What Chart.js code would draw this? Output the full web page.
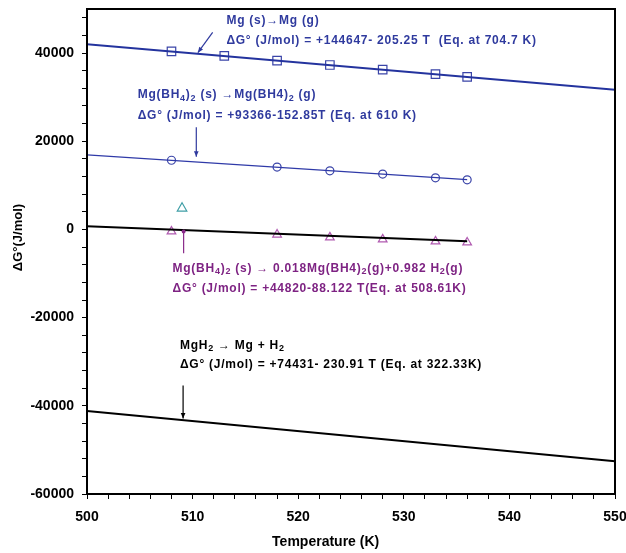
<!DOCTYPE html>
<html>
<head>
<meta charset="utf-8">
<script src="https://cdn.jsdelivr.net/npm/chart.js@4"></script>
<style>
  html, body { margin: 0; padding: 0; background: #fff; }
  #wrap { width: 626px; height: 553px; position: relative; }
</style>
</head>
<body>
<div id="wrap"><canvas id="chart"></canvas></div>
<script>
// axis ticks
const xTicks = [500, 510, 520, 530, 540, 550];
const yTicks = [-60000, -40000, -20000, 0, 20000, 40000];

// Mg (s) -> Mg (g)
const mgLineT = [500, 550];
const mgLineG = [42000, 31700];
const mgPtsT = [508, 513, 518, 523, 528, 533, 536];
const mgPtsG = [40400, 39350, 38300, 37300, 36250, 35250, 34600];

// Mg(BH4)2 (s) -> Mg(BH4)2 (g)
const bhgLineT = [500, 536];
const bhgLineG = [16900, 11300];
const bhgPtsT = [508, 518, 523, 528, 533, 536];
const bhgPtsG = [15700, 14150, 13300, 12550, 11700, 11250];

// Mg(BH4)2 (s) -> 0.018 Mg(BH4)2 (g) + 0.982 H2 (g)
const decLineT = [500, 536];
const decLineG = [750, -2700];
const decPtsT = [508, 518, 523, 528, 533, 536];
const decPtsG = [-450, -1150, -1800, -2250, -2700, -2950];
const oddPtsT = [509];
const oddPtsG = [4800];

// MgH2 -> Mg + H2
const mghLineT = [500, 550];
const mghLineG = [-41200, -52600];

// pointer lines: [x1, y1, x2, y2, colour, head]
const pointers = [
  [511.9, 44700, 510.5, 40100, "#2f3a9e", "arrow"],
  [510.35, 23200, 510.35, 16500, "#2f3a9e", "arrow"],
  [509.15, -450, 509.15, -5400, "#8a2a8a", "dot"],
  [509.1, -35400, 509.1, -42900, "#000000", "arrow"]
];

// equation labels: [x, y, text, colour]  (_{..} = subscript)
const labels = [
  [513.2, 47270, "Mg (s)\u2192Mg (g)", "#2f3a9e"],
  [513.2, 42730, "\u0394G\u00b0 (J/mol) = +144647- 205.25 T  (Eq. at 704.7 K)", "#2f3a9e"],
  [504.8, 30460, "Mg(BH_{4})_{2} (s) \u2192Mg(BH4)_{2} (g)", "#2f3a9e"],
  [504.8, 25910, "\u0394G\u00b0 (J/mol) = +93366-152.85T (Eq. at 610 K)", "#2f3a9e"],
  [508.1, -8860, "Mg(BH_{4})_{2} (s) \u2192 0.018Mg(BH4)_{2}(g)+0.982 H_{2}(g)", "#7e2383"],
  [508.1, -13410, "\u0394G\u00b0 (J/mol) = +44820-88.122 T(Eq. at 508.61K)", "#7e2383"],
  [508.8, -26360, "MgH_{2} \u2192 Mg + H_{2}", "#000000"],
  [508.8, -30680, "\u0394G\u00b0 (J/mol) = +74431- 230.91 T (Eq. at 322.33K)", "#000000"]
];

const toXY = (xs, ys) => xs.map((x, i) => ({ x: x, y: ys[i] }));

// minor tick positions
const xMinor = [];
for (let v = 500; v <= 550; v += 2) xMinor.push(v);
const yMinor = [];
for (let v = -60000; v <= 48000; v += 4000) yMinor.push(v);

const FONT = "'Liberation Sans', Arial, sans-serif";

function drawRich(ctx, text, x, y, size) {
  const parts = text.split(/_\{([^}]*)\}/);
  let cx = x;
  parts.forEach((p, i) => {
    if (!p) return;
    const sub = i % 2 === 1;
    ctx.font = "bold " + (sub ? size - 3 : size) + "px " + FONT;
    ctx.fillText(p, cx, sub ? y + 3 : y);
    cx += ctx.measureText(p).width;
  });
}

const overlay = {
  id: "overlay",
  afterDatasetsDraw(chart) {
    const { ctx, chartArea: a, scales: { x, y } } = chart;
    ctx.save();

    // frame
    ctx.strokeStyle = "#000";
    ctx.lineWidth = 2;
    ctx.strokeRect(a.left, a.top, a.right - a.left, a.bottom - a.top);

    // pointers
    pointers.forEach(p => {
      const x1 = x.getPixelForValue(p[0]), y1 = y.getPixelForValue(p[1]);
      const x2 = x.getPixelForValue(p[2]), y2 = y.getPixelForValue(p[3]);
      ctx.strokeStyle = p[4];
      ctx.fillStyle = p[4];
      ctx.lineWidth = 1.2;
      ctx.beginPath();
      ctx.moveTo(x1, y1);
      ctx.lineTo(x2, y2);
      ctx.stroke();
      if (p[5] === "arrow") {
        const ang = Math.atan2(y2 - y1, x2 - x1);
        const len = 6, w = 0.4;
        ctx.beginPath();
        ctx.moveTo(x2, y2);
        ctx.lineTo(x2 - len * Math.cos(ang - w), y2 - len * Math.sin(ang - w));
        ctx.lineTo(x2 - len * Math.cos(ang + w), y2 - len * Math.sin(ang + w));
        ctx.closePath();
        ctx.fill();
      } else {
        ctx.beginPath();
        ctx.arc(x1, y1, 2, 0, Math.PI * 2);
        ctx.fill();
      }
    });

    // labels
    ctx.textAlign = "left";
    ctx.textBaseline = "middle";
    ctx.letterSpacing = "0.75px";
    labels.forEach(l => {
      ctx.fillStyle = l[3];
      drawRich(ctx, l[2], x.getPixelForValue(l[0]), y.getPixelForValue(l[1]), 12);
    });
    ctx.letterSpacing = "0px";

    // axis titles
    ctx.fillStyle = "#000";
    ctx.font = "bold 14px " + FONT;
    ctx.textAlign = "center";
    ctx.fillText("Temperature (K)", x.getPixelForValue(522.6), 542);
    ctx.translate(18, (a.top + a.bottom) / 2 - 14);
    ctx.rotate(-Math.PI / 2);
    ctx.font = "bold 13px " + FONT;
    ctx.fillText("\u0394G\u00b0(J/mol)", 0, 0);
    ctx.restore();
  }
};

new Chart(document.getElementById("chart"), {
  type: "scatter",
  data: {
    datasets: [
      {
        data: toXY(mgLineT, mgLineG), showLine: true, pointRadius: 0,
        borderColor: "#24339e", borderWidth: 2
      },
      {
        data: toXY(mgPtsT, mgPtsG), pointStyle: "rect", pointRadius: 6,
        borderColor: "#3a44a8", backgroundColor: "rgba(0,0,0,0)", borderWidth: 1.2
      },
      {
        data: toXY(bhgLineT, bhgLineG), showLine: true, pointRadius: 0,
        borderColor: "#2f3aa8", borderWidth: 1.3
      },
      {
        data: toXY(bhgPtsT, bhgPtsG), pointStyle: "circle", pointRadius: 4,
        borderColor: "#3a44a8", backgroundColor: "rgba(0,0,0,0)", borderWidth: 1.2
      },
      {
        data: toXY(decLineT, decLineG), showLine: true, pointRadius: 0,
        borderColor: "#000", borderWidth: 2
      },
      {
        data: toXY(decPtsT, decPtsG), pointStyle: "triangle", pointRadius: 5,
        borderColor: "#b05ab0", backgroundColor: "rgba(0,0,0,0)", borderWidth: 1.2
      },
      {
        data: toXY(oddPtsT, oddPtsG), pointStyle: "triangle", pointRadius: 5.5,
        borderColor: "#3f9ea6", backgroundColor: "rgba(0,0,0,0)", borderWidth: 1.2
      },
      {
        data: toXY(mghLineT, mghLineG), showLine: true, pointRadius: 0,
        borderColor: "#000", borderWidth: 2
      }
    ]
  },
  options: {
    responsive: true,
    maintainAspectRatio: false,
    animation: false,
    layout: { padding: { top: 9, right: 11, left: 0, bottom: 0 } },
    plugins: { legend: { display: false }, tooltip: { enabled: false } },
    scales: {
      x: {
        type: "linear",
        min: 500,
        max: 550,
        afterBuildTicks: axis => { axis.ticks = xMinor.map(v => ({ value: v })); },
        afterFit: axis => {
          axis.height = 59;
          axis.paddingLeft = 0;
          axis.paddingRight = 0;
        },
        ticks: {
          autoSkip: false,
          maxRotation: 0,
          padding: 10,
          color: "#000",
          font: { family: FONT, size: 14, weight: "bold" },
          callback: v => (xTicks.includes(v) ? String(v) : "")
        },
        grid: { drawOnChartArea: false, color: "#000", tickLength: 5 },
        border: { color: "#000", width: 2 },
        title: { display: false }
      },
      y: {
        type: "linear",
        min: -60000,
        max: 50000,
        afterBuildTicks: axis => { axis.ticks = yMinor.map(v => ({ value: v })); },
        afterFit: axis => {
          axis.width = 87;
          axis.paddingTop = 0;
          axis.paddingBottom = 0;
        },
        ticks: {
          autoSkip: false,
          padding: 8,
          color: "#000",
          font: { family: FONT, size: 14, weight: "bold" },
          callback: v => (yTicks.includes(v) ? String(v) : "")
        },
        grid: { drawOnChartArea: false, color: "#000", tickLength: 5 },
        border: { color: "#000", width: 2 }
      }
    }
  },
  plugins: [overlay]
});
</script>
</body>
</html>
